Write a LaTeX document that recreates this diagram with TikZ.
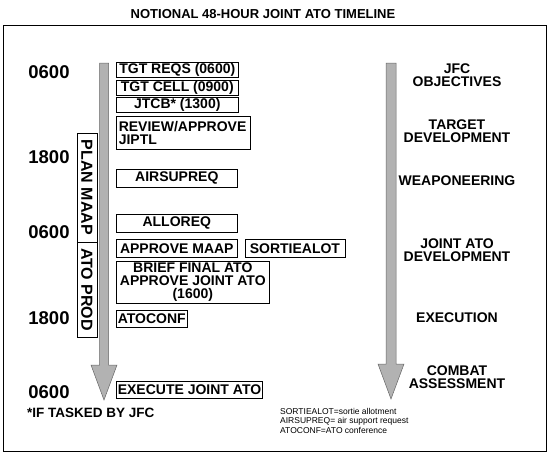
\documentclass[tikz,border=0pt]{standalone}
\usepackage{fontspec}
\setmainfont{Liberation Sans}
\usetikzlibrary{positioning}

\begin{document}
\begin{tikzpicture}[x=1pt, y=-1pt,
    task/.style  = {draw, line width=0.6pt, anchor=north west, align=center,
                    font=\fontsize{14}{13}\selectfont\bfseries,
                    inner xsep=1.5pt, inner ysep=0.5pt, minimum height=15pt},
    clock/.style = {font=\fontsize{18.5}{18}\selectfont\bfseries, inner sep=0pt},
    phase/.style = {font=\fontsize{14}{13.5}\selectfont\bfseries, align=center,
                    inner sep=0pt},
    side/.style  = {font=\fontsize{16}{16}\selectfont\bfseries, rotate=-90,
                    inner sep=0pt},
    tl/.style    = {draw=black!60, fill=black!30, line width=0.5pt},
    key/.style   = {font=\fontsize{8.5}{9.5}\selectfont, align=left,
                    anchor=north west, inner sep=0pt},
  ]
  \useasboundingbox (0,0) rectangle (550,464);

  \node[font=\fontsize{13}{13}\selectfont\bfseries] (title) at (263,14)
    {NOTIONAL 48-HOUR JOINT ATO TIMELINE};
  \draw[line width=0.9pt] (3,25) rectangle (546,451);

  % the two timelines
  \draw[tl] (99.5,63) -- (108.5,63) -- (108.5,365) -- (117,365) -- (104,400)
    -- (91,365) -- (99.5,365) -- cycle;
  \draw[tl] (386,63) -- (396,63) -- (396,364) -- (404,364) -- (391,399)
    -- (378,364) -- (386,364) -- cycle;

  % clock times
  \node[clock] (t1) at (49,72)  {0600};
  \node[clock] (t2) at (49,157) {1800};
  \node[clock] (t3) at (49,232) {0600};
  \node[clock] (t4) at (49,318) {1800};
  \node[clock] (t5) at (49,392) {0600};

  % plan / produce bracket
  \draw[line width=0.6pt] (77,133) rectangle (97,337);
  \draw[line width=0.6pt] (77,242) -- (97,242);
  \node[side] (plan) at (87,187.5) {PLAN MAAP};
  \node[side] (prod) at (87,289.5) {ATO PROD};

  % tasks
  \node[task, minimum width=122pt] (req) at (116,62) {TGT REQS (0600)};
  \node[task, minimum width=122pt, below=2pt of req.south west,
        anchor=north west] (cell) {TGT CELL (0900)};
  \node[task, minimum width=122pt, below=2pt of cell.south west,
        anchor=north west] (jtcb) {JTCB* (1300)};
  \node[task, text width=129pt, inner xsep=2.5pt, align=left,
        below=3pt of jtcb.south west, anchor=north west, minimum height=33pt]
    (jiptl) {REVIEW/APPROVE\\JIPTL};
  \node[task, minimum width=121pt, minimum height=18pt] (air) at (116,169) {AIRSUPREQ};
  \node[task, minimum width=121pt, minimum height=18pt] (allo) at (116,214) {ALLOREQ};
  \node[task, minimum width=121pt, minimum height=18pt] (maap) at (116,239) {APPROVE MAAP};
  \node[task, minimum width=100pt, minimum height=18pt, right=7pt of maap.north east,
        anchor=north west] (sortie) {SORTIEALOT};
  \node[task, minimum width=153pt, minimum height=42pt] (brief) at (116,261)
    {BRIEF FINAL ATO\\APPROVE JOINT ATO\\(1600)};
  \node[task, minimum height=17pt] (conf) at (116,310) {ATOCONF};
  \node[task, minimum width=134pt, minimum height=17pt] (exec) at (116,381) {EXECUTE JOINT ATO};

  % phases
  \node[phase] (jfc)  at (457,75)  {JFC\\OBJECTIVES};
  \node[phase] (tgt)  at (457,131) {TARGET\\DEVELOPMENT};
  \node[phase] (weap) at (457,181) {WEAPONEERING};
  \node[phase] (dev)  at (457,250) {JOINT ATO\\DEVELOPMENT};
  \node[phase] (ex)   at (457,318) {EXECUTION};
  \node[phase] (ca)   at (457,377) {COMBAT\\ASSESSMENT};

  \node[font=\fontsize{13.5}{13.5}\selectfont\bfseries, anchor=west, inner sep=0pt]
    (note) at (27,413) {*IF TASKED BY JFC};
  \node[key] (legend) at (280,408)
    {SORTIEALOT=sortie allotment\\AIRSUPREQ= air support request\\ATOCONF=ATO conference};
\end{tikzpicture}
\end{document}
